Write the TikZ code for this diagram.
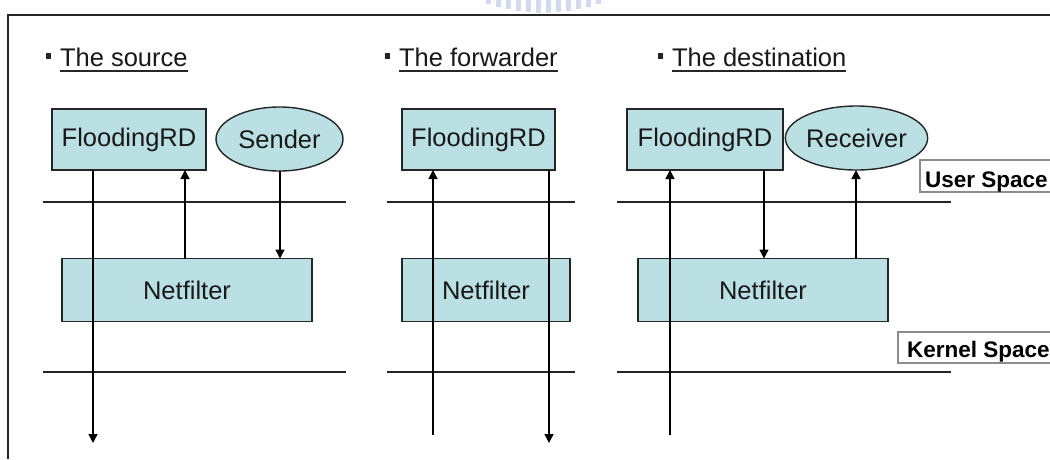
\documentclass[tikz,border=0pt]{standalone}
\usepackage{fontspec}
\setmainfont{Liberation Sans}
\usetikzlibrary{arrows.meta,shapes.geometric}
\definecolor{boxfill}{RGB}{186,224,227}
\definecolor{sealblue}{RGB}{140,155,215}

\begin{document}
\begin{tikzpicture}[x=1pt,y=-1pt,
  every node/.style={inner sep=0pt, outer sep=0pt},
  txt/.style={font=\fontsize{25.5}{30}\selectfont, text=black!90},
  blk/.style={txt, rectangle, draw=black!85, line width=1.4pt, fill=boxfill, minimum height=61pt},
  nfbox/.style={blk, minimum height=63pt},
  oval/.style={txt, ellipse, draw=black!85, line width=1.4pt, fill=boxfill, minimum width=127pt, minimum height=64pt},
  head/.style={txt, anchor=base west},
  bul/.style={rectangle, fill=black!85, minimum width=5pt, minimum height=6pt},
  uline/.style={line width=1.5pt, black!85},
  sep/.style={line width=1.6pt, black!85},
  conn/.style={line width=1.4pt, black},
  arr/.style={conn, -{Triangle[length=9pt,width=9pt]}},
  spacebox/.style={line width=1.5pt, draw=black!45},
  spacetxt/.style={font=\fontsize{22.5}{26}\selectfont\bfseries, anchor=base west}
]
\useasboundingbox (0,0) rectangle (1050,459);
\fill[white] (0,0) rectangle (1050,459);

% faded seal at the top edge
\foreach \x/\h in {488/4,498/7,508/9,518/11,528/12,538/13,548/13,558/12,568/11,578/9,588/7,598/4}{
  \draw[sealblue!75, line width=5pt, opacity=0.5] (\x,0) -- (\x,\h);
}

% outer frame
\draw[line width=2pt, black!85] (8,459) -- (8,15) -- (1050,15);

% column headings
\node[bul] (b1) at (48,56) {};
\node[head] (h1) at (60,66) {The source};
\node[bul] (b2) at (387,56) {};
\node[head] (h2) at (399,66) {The forwarder};
\node[bul] (b3) at (660,56) {};
\node[head] (h3) at (672,66) {The destination};
\foreach \h in {h1,h2,h3}{
  \draw[uline] ([yshift=-5pt]\h.base west) -- ([yshift=-5pt]\h.base east);
}

% user / kernel separators
\draw[sep] (43,202) -- (346,202);
\draw[sep] (387,202) -- (575,202);
\draw[sep] (617,202) -- (951,202);
\draw[sep] (43,372) -- (346,372);
\draw[sep] (387,372) -- (575,372);
\draw[sep] (617,372) -- (951,372);

% space labels
\draw[spacebox] (1052,160) -- (920,160) -- (920,192) -- (1052,192);
\node[spacetxt] (us) at (925,187) {User Space};
\draw[spacebox] (1052,332) -- (898,332) -- (898,363) -- (1052,363);
\node[spacetxt] (ks) at (907,357) {Kernel Space};

% the source
\node[blk, minimum width=154pt] (fr1) at (129,139.5) {FloodingRD};
\node[oval] (snd) at (279.5,139) {Sender};
\node[nfbox, minimum width=250pt] (nf1) at (187,290) {Netfilter};

% the forwarder
\node[blk, minimum width=153pt] (fr2) at (478.5,139.5) {FloodingRD};
\node[nfbox, minimum width=168pt] (nf2) at (486,290) {Netfilter};

% the destination
\node[blk, minimum width=156pt] (fr3) at (705,139.5) {FloodingRD};
\node[oval] (rcv) at (856.5,138) {Receiver};
\node[nfbox, minimum width=250pt] (nf3) at (763,290) {Netfilter};

% packet paths at the source
\coordinate (sA) at (93,443);
\coordinate (sB) at (185,0);
\coordinate (sC) at (280,0);
\draw[arr] (fr1.south -| sA) -- (sA);
\draw[arr] (nf1.north -| sB) -- (fr1.south -| sB);
\draw[arr] (snd.south -| sC) -- (nf1.north -| sC);

% packet paths at the forwarder
\coordinate (fA) at (433,435);
\coordinate (fB) at (549,443);
\draw[arr] (fA) -- (fr2.south -| fA);
\draw[arr] (fr2.south -| fB) -- (fB);

% packet paths at the destination
\coordinate (dA) at (670,435);
\coordinate (dB) at (764,0);
\coordinate (dC) at (856,0);
\draw[arr] (dA) -- (fr3.south -| dA);
\draw[arr] (fr3.south -| dB) -- (nf3.north -| dB);
\draw[arr] (nf3.north -| dC) -- (rcv.south -| dC);
\end{tikzpicture}
\end{document}
